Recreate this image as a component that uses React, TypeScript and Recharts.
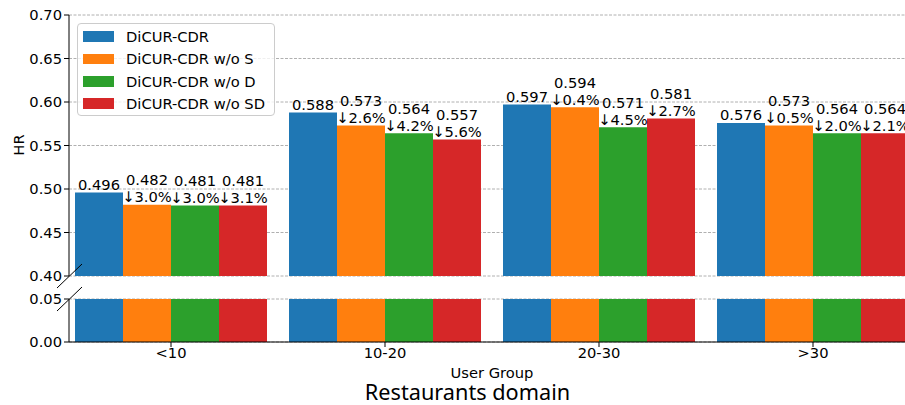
import React from 'react';
import { BarChart, Bar, XAxis, YAxis, CartesianGrid, LabelList, Legend } from 'recharts';

const categories = ['<10', '10-20', '20-30', '>30'];
const full = [0.496, 0.588, 0.597, 0.576];
const woS = [0.482, 0.573, 0.594, 0.573];
const woD = [0.481, 0.564, 0.571, 0.564];
const woSD = [0.481, 0.557, 0.581, 0.564];
const dropS = ['3.0', '2.6', '0.4', '0.5'];
const dropD = ['3.0', '4.2', '4.5', '2.0'];
const dropSD = ['3.1', '5.6', '2.7', '2.1'];
const yTicksTop = [0.4, 0.45, 0.5, 0.55, 0.6, 0.65, 0.7];
const yTicksBottom = [0, 0.05];

const series = [
  { key: 'full', name: 'DiCUR-CDR', color: '#1f77b4', drops: null as string[] | null },
  { key: 'woS', name: 'DiCUR-CDR w/o S', color: '#ff7f0e', drops: dropS },
  { key: 'woD', name: 'DiCUR-CDR w/o D', color: '#2ca02c', drops: dropD },
  { key: 'woSD', name: 'DiCUR-CDR w/o SD', color: '#d62728', drops: dropSD },
];

const data = categories.map((c, i) => ({
  cat: c,
  full: full[i],
  woS: woS[i],
  woD: woD[i],
  woSD: woSD[i],
}));

const FONT = 'DejaVu Sans';
const FS = 14.7;

const makeLabel = (drops: string[] | null) => (props: any) => {
  const { x, y, width, value, index } = props;
  const cx = Number(x) + Number(width) / 2;
  const base = Number(y) - 2.5;
  const lines = drops ? [Number(value).toFixed(3), '\u2193' + drops[index] + '%'] : [Number(value).toFixed(3)];
  return (
    <g>
      {lines.map((t, k) => (
        <text
          key={k}
          x={cx}
          y={base - (lines.length - 1 - k) * 17}
          textAnchor="middle"
          fontSize={FS}
          fontFamily={FONT}
          fill="#000"
        >
          {t}
        </text>
      ))}
    </g>
  );
};

const renderLegend = () => (
  <div
    style={{
      width: 198,
      height: 93,
      boxSizing: 'border-box',
      border: '1px solid #cccccc',
      borderRadius: 4,
      background: 'rgba(255,255,255,0.8)',
      position: 'relative',
      fontFamily: FONT,
      fontSize: FS,
      color: '#000',
    }}
  >
    {series.map((s, i) => (
      <div
        key={s.key}
        style={{
          position: 'absolute',
          left: 5,
          top: 1.3 + i * 22.4,
          height: 22.4,
          display: 'flex',
          alignItems: 'center',
          whiteSpace: 'nowrap',
        }}
      >
        <div style={{ width: 31, height: 10.5, background: s.color, marginRight: 12 }} />
        <span>{s.name}</span>
      </div>
    ))}
  </div>
);

const tickStyle = { fontSize: FS, fill: '#000', fontFamily: FONT };
const fmt = (v: number) => v.toFixed(2);

export default function App() {
  return (
    <div style={{ position: 'absolute', left: 0, top: 0, width: 905, height: 405, overflow: 'hidden', background: '#fff' }}>
      <div style={{ position: 'absolute', left: 0, top: 0 }}>
        <BarChart
          width={925}
          height={290}
          data={data}
          margin={{ top: 15, right: 10, bottom: 14, left: 0 }}
          barCategoryGap={11}
          barGap={0}
        >
          <CartesianGrid vertical={false} stroke="#b0b0b0" strokeDasharray="3 1.5" />
          <XAxis dataKey="cat" hide padding={{ left: -5, right: -5 }} />
          <YAxis
            type="number"
            domain={[0.4, 0.7]}
            ticks={yTicksTop}
            allowDataOverflow
            width={69}
            tick={tickStyle}
            tickFormatter={fmt}
            tickSize={5}
            tickMargin={2}
            axisLine={{ stroke: '#000' }}
            tickLine={{ stroke: '#000' }}
            label={{
              content: () => (
                <text
                  x={18.5}
                  y={145}
                  transform="rotate(-90, 18.5, 145)"
                  textAnchor="middle"
                  dy="0.36em"
                  fontSize={FS}
                  fontFamily={FONT}
                  fill="#000"
                >
                  HR
                </text>
              ),
            }}
          />
          <Legend
            layout="horizontal"
            align="center"
            verticalAlign="middle"
            content={renderLegend}
            wrapperStyle={{ left: 77, top: 23, width: 198, height: 93 }}
          />
          {series.map((s) => (
            <Bar key={s.key} dataKey={s.key} name={s.name} fill={s.color} isAnimationActive={false}>
              <LabelList dataKey={s.key} content={makeLabel(s.drops)} />
            </Bar>
          ))}
        </BarChart>
      </div>
      <div style={{ position: 'absolute', left: 0, top: 290 }}>
        <BarChart
          width={925}
          height={115}
          data={data}
          margin={{ top: 9, right: 10, bottom: 33, left: 0 }}
          barCategoryGap={11}
          barGap={0}
        >
          <CartesianGrid vertical={false} stroke="#b0b0b0" strokeDasharray="3 1.5" />
          <XAxis
            dataKey="cat"
            padding={{ left: -5, right: -5 }}
            height={30}
            tick={tickStyle}
            tickSize={5}
            tickMargin={1}
            axisLine={{ stroke: '#000' }}
            tickLine={{ stroke: '#000' }}
            label={{
              content: (p: any) => {
                const vb = p.viewBox || { x: 69, y: 52, width: 846, height: 30 };
                return (
                  <text
                    x={vb.x + vb.width / 2}
                    y={vb.y + vb.height + 5.5}
                    textAnchor="middle"
                    fontSize={FS}
                    fontFamily={FONT}
                    fill="#000"
                  >
                    User Group
                  </text>
                );
              },
            }}
          />
          <YAxis
            type="number"
            domain={[0, 0.05]}
            ticks={yTicksBottom}
            allowDataOverflow
            width={69}
            tick={tickStyle}
            tickFormatter={fmt}
            tickSize={5}
            tickMargin={2}
            axisLine={{ stroke: '#000' }}
            tickLine={{ stroke: '#000' }}
          />
          {series.map((s) => (
            <Bar key={s.key} dataKey={s.key} name={s.name} fill={s.color} isAnimationActive={false} />
          ))}
        </BarChart>
      </div>
      <svg width={905} height={405} style={{ position: 'absolute', left: 0, top: 0, pointerEvents: 'none' }}>
        <line x1={57} y1={288} x2={82} y2={264} stroke="#000" strokeWidth={1} />
        <line x1={57} y1={311} x2={82} y2={287} stroke="#000" strokeWidth={1} />
        <text x={467.5} y={399.5} textAnchor="middle" fontSize={21.7} fontFamily="Noto Sans" fill="#000">
          Restaurants domain
        </text>
      </svg>
    </div>
  );
}
